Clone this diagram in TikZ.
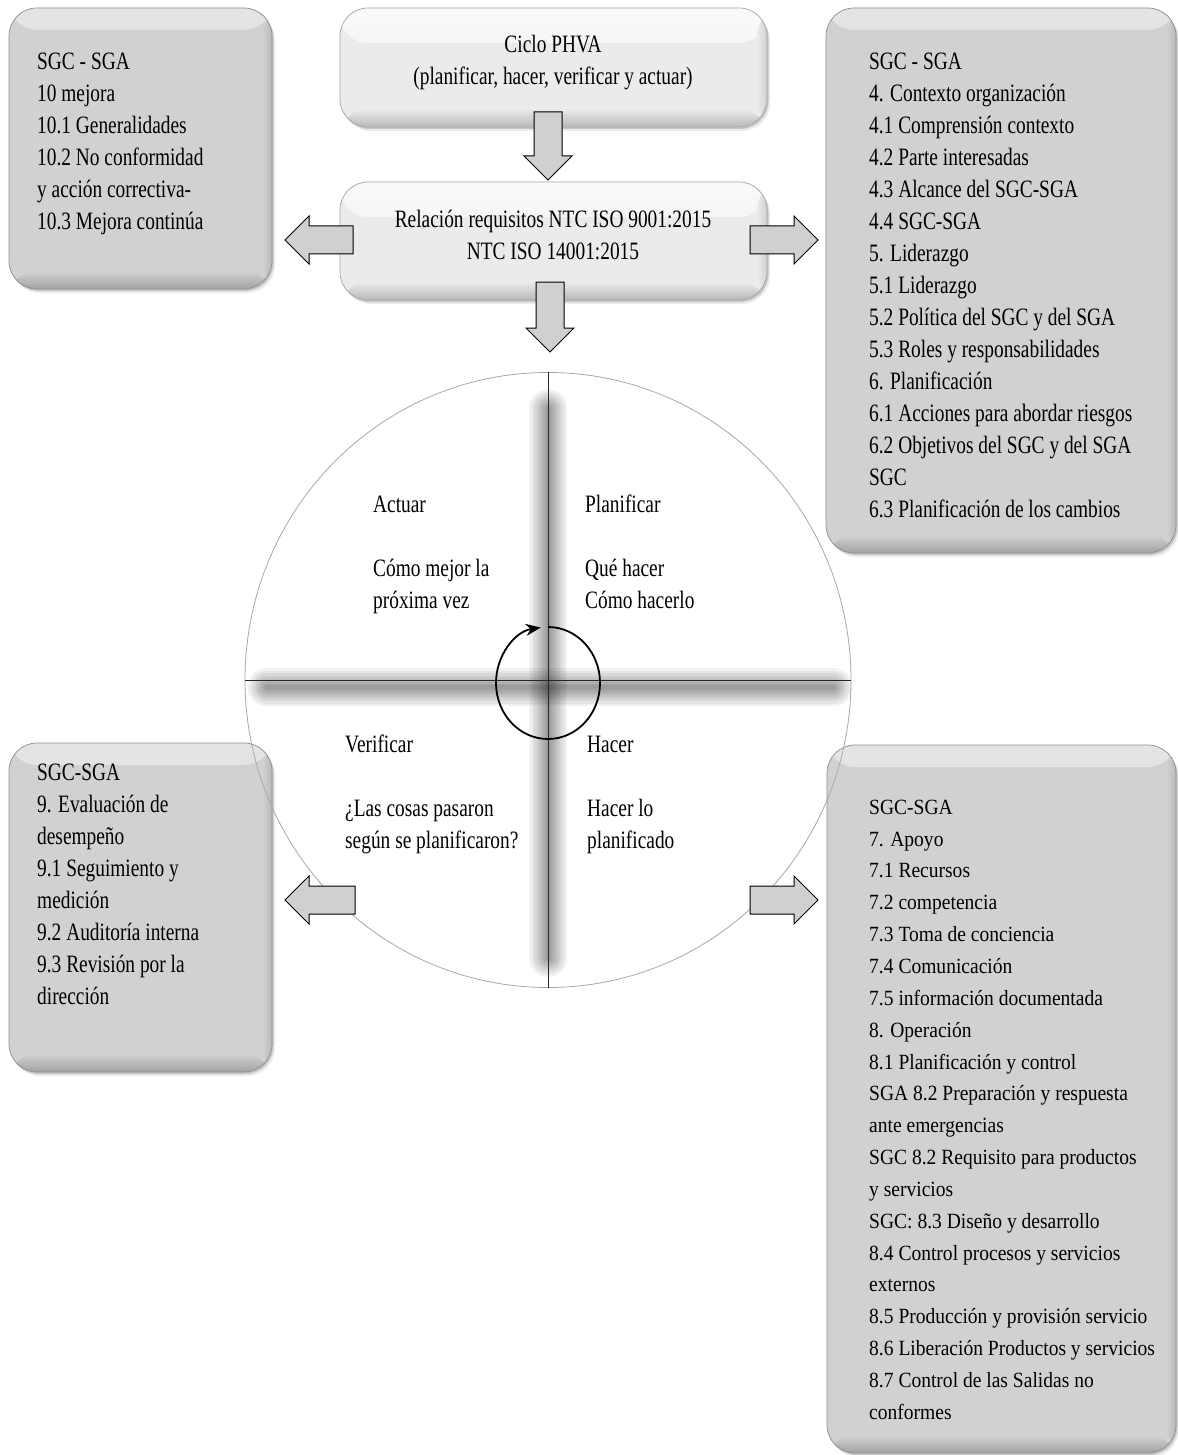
\documentclass[tikz,border=0pt]{standalone}
\usepackage{fontspec}
\setmainfont{Liberation Serif}
\newfontfamily\condfont[FakeStretch=0.775]{Liberation Serif}
\newfontfamily\widefont[FakeStretch=0.9]{Liberation Serif}
\usetikzlibrary{shapes.geometric,shadows,arrows.meta}
\definecolor{sidefill}{HTML}{D1D1D1}
\definecolor{sidetop}{HTML}{E4E4E4}
\definecolor{sidebot}{HTML}{A2A2A2}
\definecolor{sideedge}{HTML}{8E8E8E}
\definecolor{ctrfill}{HTML}{EBEBEB}
\definecolor{ctrtop}{HTML}{FAFAFA}
\definecolor{ctrbot}{HTML}{B8B8B8}
\definecolor{arrowfill}{HTML}{D0D0D0}
\definecolor{ringgray}{HTML}{A8A8A8}
\begin{document}
\begin{tikzpicture}[x=1pt,y=-1pt,
  boxbase/.style={rectangle, rounded corners=28pt, inner sep=0pt, line width=0.7pt,
    drop shadow={shadow xshift=3pt, shadow yshift=-4pt, opacity=0.08, fill=black},
    drop shadow={shadow xshift=1.5pt, shadow yshift=-2pt, opacity=0.16, fill=black}},
  sidebox/.style={boxbase, fill=sidefill, draw=sideedge,
    path picture={
      \shade[top color=sidetop, bottom color=sidefill] (path picture bounding box.north west) rectangle ([yshift=-22pt]path picture bounding box.north east);
      \shade[top color=sidefill, bottom color=sidebot] ([yshift=18pt]path picture bounding box.south west) rectangle (path picture bounding box.south east);
      \shade[left color=sidefill, right color=sidebot!50!sidefill] ([xshift=-10pt]path picture bounding box.south east) rectangle (path picture bounding box.north east);
    }},
  ctrbox/.style={boxbase, fill=ctrfill, draw=sideedge!80,
    path picture={
      \shade[top color=ctrtop, bottom color=ctrfill] (path picture bounding box.north west) rectangle ([yshift=-35pt]path picture bounding box.north east);
      \shade[top color=ctrfill, bottom color=ctrbot] ([yshift=18pt]path picture bounding box.south west) rectangle (path picture bounding box.south east);
      \shade[left color=ctrfill, right color=ctrbot!50!ctrfill] ([xshift=-10pt]path picture bounding box.south east) rectangle (path picture bounding box.north east);
    }},
  arrowstyle/.style={draw=black, fill=arrowfill, line width=1pt, line join=miter},
  barrow/.pic={\path[arrowstyle] (0,0) -- (-24,-24) -- (-24,-14) -- (-#1,-14)
      -- (-#1,14) -- (-24,14) -- (-24,24) -- cycle;},
  txt/.style={align=left, inner sep=0pt, anchor=north west,
    font=\condfont\fontsize{25pt}{32pt}\selectfont},
  ctrtxt/.style={txt, align=center, anchor=north},
  widetxt/.style={txt, font=\widefont\fontsize{21.7pt}{31.85pt}\selectfont},
  crossline/.style={line width=1pt, black!85},
  lineshadow/.style={line width=#1, black, opacity=0.05, line cap=round},
]
\useasboundingbox (0,0) rectangle (1177,1455);
\fill[white] (0,0) rectangle (1177,1455);

% boxes
\node[sidebox, minimum width=263pt, minimum height=281pt] (tl) at (140.5,148.5) {};
\node[ctrbox, minimum width=427pt, minimum height=119pt] (phva) at (553.5,67.5) {};
\node[ctrbox, minimum width=427pt, minimum height=118pt] (rel) at (553.5,241) {};
\node[sidebox, minimum width=350pt, minimum height=545pt] (tr) at (1001,280.5) {};
\node[sidebox, minimum width=263pt, minimum height=329pt] (bl) at (140.5,907.5) {};
\node[sidebox, minimum width=349pt, minimum height=708pt] (br) at (1001.5,1099) {};

% cycle
\node[ellipse, draw=ringgray, line width=0.8pt, minimum width=606pt, minimum height=615pt, inner sep=0pt] (cyc) at (548,680) {};
\foreach \w in {38,33,28,23,19,15,11,7,4} {
  \draw[lineshadow=\w pt] ([yshift=-36pt]cyc.north) -- ([yshift=30pt]cyc.south);
  \draw[lineshadow=\w pt] ([xshift=22pt,yshift=-7pt]cyc.west) -- ([xshift=-18pt,yshift=-7pt]cyc.east);
}
\draw[crossline] (cyc.north) -- (cyc.south);
\draw[crossline] (cyc.west) -- (cyc.east);
\coordinate (looptop) at (548,627);
\draw[line width=1.8pt, -{Stealth[length=15pt,width=12pt]}] (looptop)
  arc[start angle=-90, end angle=262, x radius=52, y radius=56];

% block arrows
\pic (a1) [rotate=-90] at (548,180) {barrow=68};
\pic (a2) [rotate=-90] at (550,352) {barrow=70};
\pic (a3) [rotate=180] at (285,240) {barrow=68};
\pic (a4) at (818,240) {barrow=68};
\pic (a5) [rotate=180] at (285,900) {barrow=70};
\pic (a6) at (818,900) {barrow=68};

% texts
\node[ctrtxt] (phvatxt) at (553,29.6) {\strut Ciclo PHVA\\(planificar, hacer, verificar y actuar)};
\node[ctrtxt] (reltxt) at (553,204.6) {\strut Relación requisitos NTC ISO 9001:2015\\NTC ISO 14001:2015};
\node[txt] (tltxt) at (37,46.6) {\strut SGC - SGA\\10 mejora\\10.1 Generalidades\\10.2 No conformidad\\y acción correctiva-\\10.3 Mejora continúa};
\node[txt] (trtxt) at (869,46.6) {\strut SGC - SGA\\4. Contexto organización\\4.1 Comprensión contexto\\4.2 Parte interesadas\\4.3 Alcance del SGC-SGA\\4.4 SGC-SGA\\5. Liderazgo\\5.1 Liderazgo\\5.2 Política del SGC y del SGA\\5.3 Roles y responsabilidades\\6. Planificación\\6.1 Acciones para abordar riesgos\\6.2 Objetivos del SGC y del SGA\\SGC\\6.3 Planificación de los cambios};
\node[txt] (bltxt) at (37,757.6) {\strut SGC-SGA\\9. Evaluación de\\desempeño\\9.1 Seguimiento y\\medición\\9.2 Auditoría interna\\9.3 Revisión por la\\dirección};
\node[widetxt] (brtxt) at (869,791.7) {\strut SGC-SGA\\7. Apoyo\\7.1 Recursos\\7.2 competencia\\7.3 Toma de conciencia\\7.4 Comunicación\\7.5 información documentada\\8. Operación\\8.1 Planificación y control\\SGA 8.2 Preparación y respuesta\\ante emergencias\\SGC 8.2 Requisito para productos\\y servicios\\SGC: 8.3 Diseño y desarrollo\\8.4 Control procesos y servicios\\externos\\8.5 Producción y provisión servicio\\8.6 Liberación Productos y servicios\\8.7 Control de las Salidas no\\conformes};
\node[txt] (actuar) at (373,489.6) {\strut Actuar\\[32pt]Cómo mejor la\\próxima vez};
\node[txt] (planif) at (585,489.6) {\strut Planificar\\[32pt]Qué hacer\\Cómo hacerlo};
\node[txt] (verif) at (345,729.6) {\strut Verificar\\[32pt]¿Las cosas pasaron\\según se planificaron?};
\node[txt] (hacer) at (587,729.6) {\strut Hacer\\[32pt]Hacer lo\\planificado};
\end{tikzpicture}
\end{document}
